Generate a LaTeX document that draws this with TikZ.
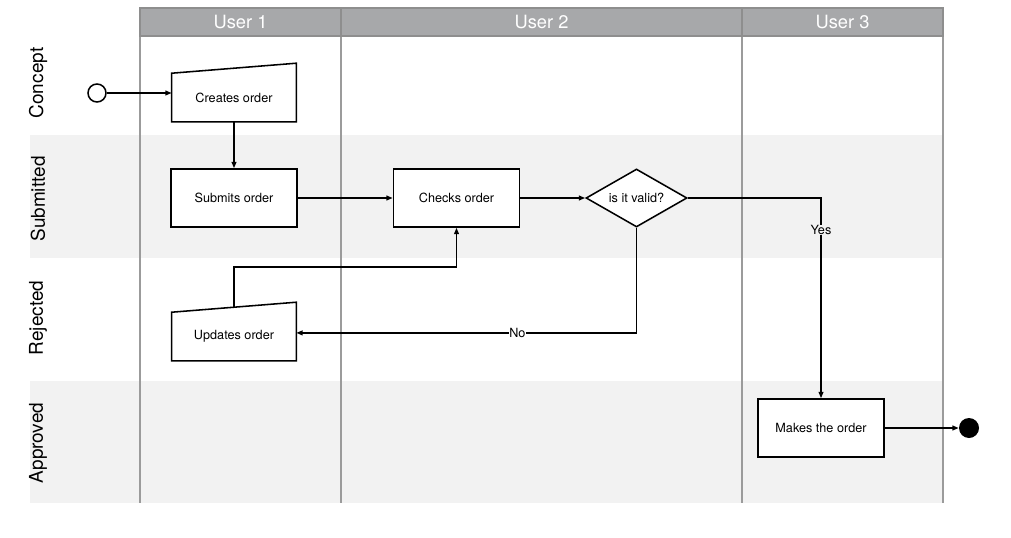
\documentclass[tikz,border=0pt]{standalone}
\usepackage{fontspec}
\setmainfont{TeX Gyre Heros}
\usetikzlibrary{shapes.geometric, arrows.meta, positioning}
\definecolor{headgray}{HTML}{A7A8AA}
\definecolor{headline}{HTML}{8E8E8E}
\definecolor{linegray}{HTML}{9B9B9B}
\definecolor{bandgray}{HTML}{F2F2F2}
\tikzset{
  task/.style={
    rectangle, draw=black, line width=1.1pt, fill=white,
    minimum width=3.15cm, minimum height=1.45cm,
    font=\fontsize{9}{11}\selectfont
  },
  manual/.style={
    rectangle,
    minimum width=3.1cm, minimum height=1.2cm,
    font=\fontsize{9}{11}\selectfont
  },
  decision/.style={
    diamond, aspect=1.74, inner sep=0pt,
    minimum width=2.525cm, minimum height=1.45cm,
    draw=black, line width=1.1pt, fill=white,
    font=\fontsize{9}{11}\selectfont
  },
  lanehead/.style={
    rectangle, draw=headline, line width=1pt, fill=headgray,
    text=white, minimum height=0.7cm,
    font=\fontsize{13}{15}\selectfont
  },
  lanelabel/.style={rotate=90, font=\fontsize{13.5}{16}\selectfont},
  laneline/.style={draw=linegray, line width=1.1pt},
  flowlabel/.style={font=\fontsize{9}{11}\selectfont, inner sep=0.5pt},
  arrow/.style={-{Triangle[length=0.16cm, width=0.12cm]}, line width=1.1pt}
}

\begin{document}
\begin{tikzpicture}[x=0.025cm, y=-0.025cm]

  \useasboundingbox (0,0) rectangle (1011,538);

  % swimlane bands
  \fill[bandgray] (30,135) rectangle (943,258);
  \fill[bandgray] (30,381) rectangle (943,503);
  \foreach \x in {140,341,742,943}
    \draw[laneline] (\x,36) -- (\x,503);

  \node[lanehead, minimum width=5.025cm] (user1) at (240.5,22) {User 1};
  \node[lanehead, minimum width=10.025cm] (user2) at (541.5,22) {User 2};
  \node[lanehead, minimum width=5.025cm] (user3) at (842.5,22) {User 3};

  \node[lanelabel] (concept) at (38,83) {Concept};
  \node[lanelabel] (submitted) at (38,199) {Submitted};
  \node[lanelabel] (rejected) at (38,318) {Rejected};
  \node[lanelabel] (approved) at (38,443) {Approved};

  % flow nodes
  \node[circle, draw, line width=1.1pt, fill=white, minimum size=0.45cm, inner sep=0pt] (start) at (97,93) {};

  \node[manual] (create) at (234,97.5) {Creates order};
  \draw[line width=1.1pt] (create.south west) -- (create.north west)
    -- ([yshift=0.25cm]create.north east) -- (create.south east) -- cycle;

  \node[task] (submit) at (234,198) {Submits order};
  \node[task] (check) at (456.5,198) {Checks order};
  \node[decision] (valid) at (636.5,198) {is it valid?};

  \node[manual] (update) at (234,336.5) {Updates order};
  \draw[line width=1.1pt] (update.south west) -- (update.north west)
    -- ([yshift=0.25cm]update.north east) -- (update.south east) -- cycle;

  \node[task] (make) at (821,428) {Makes the order};
  \node[circle, fill=black, minimum size=0.5cm, inner sep=0pt] (finish) at (969,428) {};

  \coordinate (back) at (456.5,267);

  \draw[arrow] (start) -- (start -| create.west);
  \draw[arrow] (create) -- (submit);
  \draw[arrow] (submit) -- (check);
  \draw[arrow] (check) -- (valid);
  \draw[arrow] (valid.east) -| node[pos=0.58, flowlabel, fill=bandgray]{Yes} (make.north);
  \draw[arrow] (valid.south) |- node[pos=0.675, flowlabel, fill=white]{No} ([yshift=0.09cm]update.east);
  \draw[arrow] ([yshift=0.12cm]update.north) |- (back) -- (check.south);
  \draw[arrow] (make) -- (finish);

\end{tikzpicture}
\end{document}
